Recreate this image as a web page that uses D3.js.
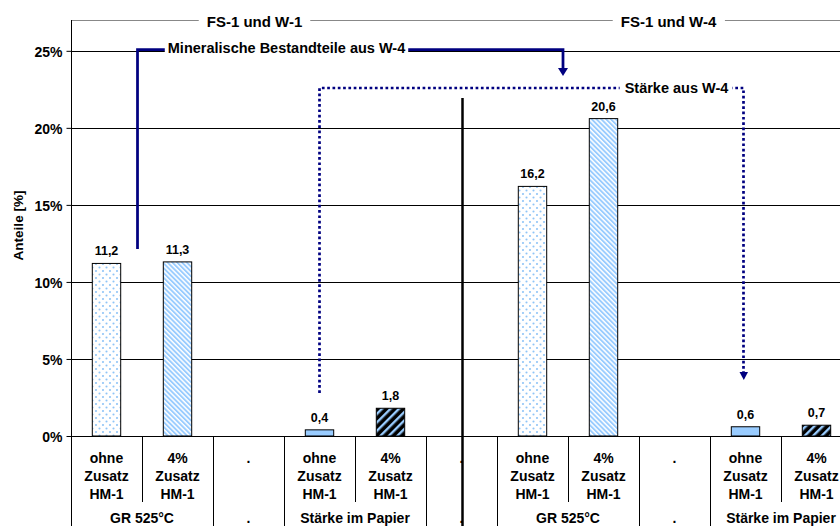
<!DOCTYPE html>
<html>
<head>
<meta charset="utf-8">
<script src="https://cdn.jsdelivr.net/npm/d3@7"></script>
<style>
  html, body { margin: 0; padding: 0; background: #fff; overflow: hidden; }
  svg { display: block; font-family: "Liberation Sans", Arial, sans-serif; font-weight: bold; }
</style>
</head>
<body>
<svg id="chart" width="840" height="526"></svg>
<script>
// Category slots (first level): three text lines each
const catLines = [
  ["ohne", "Zusatz", "HM-1"], ["4%", "Zusatz", "HM-1"], ["."],
  ["ohne", "Zusatz", "HM-1"], ["4%", "Zusatz", "HM-1"], ["."],
  ["ohne", "Zusatz", "HM-1"], ["4%", "Zusatz", "HM-1"], ["."],
  ["ohne", "Zusatz", "HM-1"], ["4%", "Zusatz", "HM-1"]
];
// Second level groups: label, first slot, last slot
const groupLabels = ["GR 525°C", ".", "Stärke im Papier", ".", "GR 525°C", ".", "Stärke im Papier"];
const groupStart  = [0, 2, 3, 5, 6, 8, 9];
const groupEnd    = [1, 2, 4, 5, 7, 8, 10];
// Share values [%] per slot (null = empty slot)
const values = [11.2, 11.3, null, 0.4, 1.8, null, 16.2, 20.6, null, 0.6, 0.7];
// Fill pattern per slot
const fillKind = ["dots", "hatchLight", null, "solid", "hatchDark", null, "dots", "hatchLight", null, "solid", "hatchDark"];
const yTicks = [0, 5, 10, 15, 20, 25];
const topTitles = ["FS-1 und W-1", "FS-1 und W-4"];
const noteMineral = "Mineralische Bestandteile aus W-4";
const noteStarch = "Stärke aus W-4";
const yTitle = "Anteile [%]";

const svg = d3.select("#chart");
const navy = "#000080";
const lightBlue = "#99ccff";

// ---- patterns ----
const defs = svg.append("defs");
const pDots = defs.append("pattern").attr("id", "dots")
  .attr("patternUnits", "userSpaceOnUse").attr("width", 7).attr("height", 7);
pDots.append("rect").attr("width", 7).attr("height", 7).attr("fill", "#fff");
pDots.append("circle").attr("cx", 1.5).attr("cy", 1.5).attr("r", 1.05).attr("fill", "#8fc4f7");
pDots.append("circle").attr("cx", 5).attr("cy", 5).attr("r", 1.05).attr("fill", "#8fc4f7");

const pLight = defs.append("pattern").attr("id", "hatchLight")
  .attr("patternUnits", "userSpaceOnUse").attr("width", 3.4).attr("height", 3.4)
  .attr("patternTransform", "rotate(-45)");
pLight.append("rect").attr("width", 3.4).attr("height", 3.4).attr("fill", "#fff");
pLight.append("rect").attr("width", 1.9).attr("height", 3.4).attr("fill", lightBlue);

const pDark = defs.append("pattern").attr("id", "hatchDark")
  .attr("patternUnits", "userSpaceOnUse").attr("width", 6).attr("height", 6)
  .attr("patternTransform", "rotate(45)");
pDark.append("rect").attr("width", 6).attr("height", 6).attr("fill", "#000");
pDark.append("rect").attr("width", 2.4).attr("height", 6).attr("fill", lightBlue);

const fillFor = k => k === "solid" ? lightBlue : `url(#${k})`;

// ---- scales ----
const plotLeft = 71, plotRight = 852, plotTop = 20, plotBottom = 436;
const x = d3.scaleBand().domain(d3.range(catLines.length)).range([plotLeft, plotRight]).paddingInner(0).paddingOuter(0);
const y = d3.scaleLinear().domain([0, 27]).range([plotBottom, plotTop]);
const bw = x.bandwidth();
const fmt = v => d3.format(".1f")(v).replace(".", ",");

// ---- plot frame (top border) ----
svg.append("line").attr("x1", plotLeft).attr("x2", 840).attr("y1", plotTop + 0.5).attr("y2", plotTop + 0.5)
  .attr("stroke", "#888").attr("stroke-width", 1);

// ---- gridlines ----
svg.append("g").selectAll("line").data(yTicks.filter(d => d > 0)).join("line")
  .attr("x1", plotLeft).attr("x2", plotRight)
  .attr("y1", d => Math.round(y(d)) + 0.5).attr("y2", d => Math.round(y(d)) + 0.5)
  .attr("stroke", "#000").attr("stroke-width", 1);

// ---- y axis ----
const yAxis = svg.append("g").attr("transform", `translate(${plotLeft + 0.5},0)`)
  .call(d3.axisLeft(y).tickValues(yTicks).tickSize(5).tickPadding(4).tickFormat(d => d + "%"));
yAxis.select(".domain").remove();
yAxis.selectAll(".tick line").attr("stroke", "#000");
yAxis.selectAll(".tick text").attr("font-size", 14).attr("font-weight", "bold")
  .attr("font-family", "Liberation Sans, Arial, sans-serif").attr("fill", "#000").attr("dy", "0.38em");
svg.append("line").attr("x1", plotLeft + 0.5).attr("x2", plotLeft + 0.5)
  .attr("y1", plotTop).attr("y2", plotBottom).attr("stroke", "#000");

svg.append("text").attr("transform", `translate(23,225.5) rotate(-90)`)
  .attr("text-anchor", "middle").attr("font-size", 13.5).text(yTitle);

// ---- bars ----
const barW = bw * 0.4;
const barData = values.map((v, i) => ({ v, i, k: fillKind[i] })).filter(d => d.v !== null);
svg.append("g").selectAll("rect").data(barData).join("rect")
  .attr("x", d => x(d.i) + (bw - barW) / 2)
  .attr("y", d => y(d.v))
  .attr("width", barW)
  .attr("height", d => plotBottom - y(d.v))
  .attr("fill", d => fillFor(d.k))
  .attr("stroke", "#000").attr("stroke-width", 1);

svg.append("g").selectAll("text").data(barData).join("text")
  .attr("x", d => x(d.i) + bw / 2)
  .attr("y", d => y(d.v) - 8)
  .attr("text-anchor", "middle").attr("font-size", 12.5)
  .text(d => fmt(d.v));

// ---- x axis (two levels) ----
svg.append("line").attr("x1", plotLeft).attr("x2", plotRight)
  .attr("y1", plotBottom + 0.5).attr("y2", plotBottom + 0.5).attr("stroke", "#000");

const boundaries = d3.range(catLines.length + 1);
const groupEdges = new Set([0, ...groupEnd.map(e => e + 1)]);
svg.append("g").selectAll("line").data(boundaries).join("line")
  .attr("x1", i => Math.round(plotLeft + i * bw) + 0.5)
  .attr("x2", i => Math.round(plotLeft + i * bw) + 0.5)
  .attr("y1", plotBottom)
  .attr("y2", i => groupEdges.has(i) ? 540 : 502)
  .attr("stroke", "#000");

const catG = svg.append("g").selectAll("text").data(catLines).join("text")
  .attr("text-anchor", "middle").attr("font-size", 14);
catG.each(function (lines, i) {
  d3.select(this).selectAll("tspan").data(lines).join("tspan")
    .attr("x", x(i) + bw / 2)
    .attr("y", (d, j) => 463 + j * 18)
    .text(d => d);
});

svg.append("g").selectAll("text").data(groupLabels).join("text")
  .attr("x", (d, g) => (x(groupStart[g]) + x(groupEnd[g]) + bw) / 2)
  .attr("y", 522.5)
  .attr("text-anchor", "middle").attr("font-size", 14)
  .text(d => d);

// ---- separator between the two fabric series ----
svg.append("line").attr("x1", 462.5).attr("x2", 462.5).attr("y1", 98).attr("y2", 526)
  .attr("stroke", "#000").attr("stroke-width", 2.5);

// ---- top series titles on the frame ----
const titleX = [254.5, 668.5];
topTitles.forEach((t, i) => {
  const tx = svg.append("text").attr("x", titleX[i]).attr("y", 26.5)
    .attr("text-anchor", "middle").attr("font-size", 15).text(t);
  const bb = tx.node().getBBox();
  svg.insert("rect", () => tx.node())
    .attr("x", bb.x - 8).attr("y", 12).attr("width", bb.width + 16).attr("height", 16).attr("fill", "#fff");
});

// ---- annotation: minerals (solid arrow) ----
const midX = s => x(s) + bw / 2;
svg.append("path")
  .attr("d", `M137.5,249 V49.5 H${563} V69`)
  .attr("fill", "none").attr("stroke", navy).attr("stroke-width", 2.75);
svg.append("path").attr("d", `M558,68 L568,68 L563,76 Z`).attr("fill", navy);
{
  const t = svg.append("text").attr("x", 286.5).attr("y", 52.5)
    .attr("text-anchor", "middle").attr("font-size", 14.5).text(noteMineral);
  const bb = t.node().getBBox();
  svg.insert("rect", () => t.node())
    .attr("x", bb.x - 3).attr("y", 40).attr("width", bb.width + 6).attr("height", 13).attr("fill", "#fff");
}

// ---- annotation: starch (dotted arrow) ----
svg.append("path")
  .attr("d", `M${midX(3)},393 V88 H743.5 V372`)
  .attr("fill", "none").attr("stroke", navy).attr("stroke-width", 2.7)
  .attr("stroke-dasharray", "2.7,2.6");
svg.append("path").attr("d", `M739.5,372 L748,372 L743.8,380 Z`).attr("fill", navy);
{
  const t = svg.append("text").attr("x", 676.5).attr("y", 92.7)
    .attr("text-anchor", "middle").attr("font-size", 14.5).text(noteStarch);
  const bb = t.node().getBBox();
  svg.insert("rect", () => t.node())
    .attr("x", bb.x - 5).attr("y", 80).attr("width", bb.width + 9).attr("height", 16).attr("fill", "#fff");
}
</script>
</body>
</html>
